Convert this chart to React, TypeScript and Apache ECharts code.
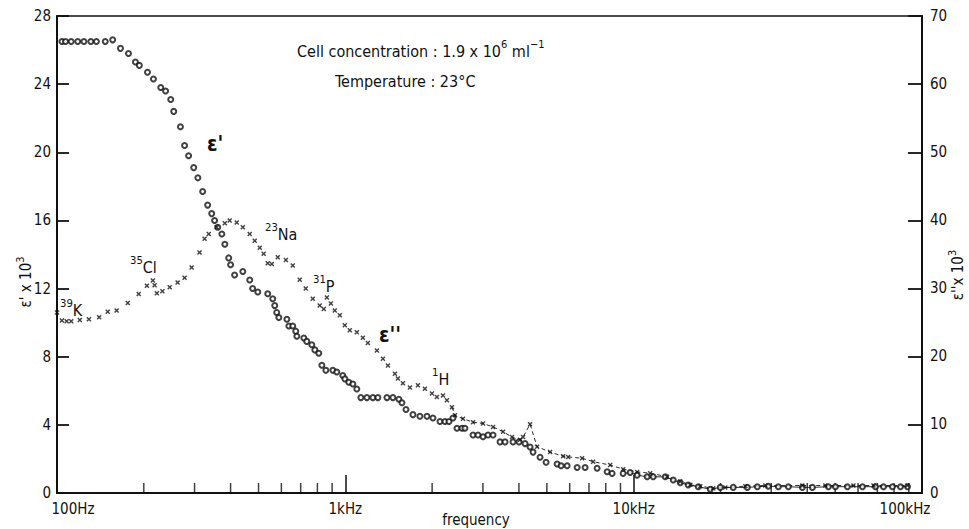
import { useEffect, useRef } from 'react';
import * as echarts from 'echarts';

// ε' (left axis, x10^3) — circles
const epsPrimeFreq = [104,107,112,118,124,131,137,147,156,166,177,187,193,206,216,229,238,248,254,268,277,286,298,308,320,333,344,352,361,373,382,394,400,413,441,466,477,497,538,560,569,578,588,627,637,657,673,679,718,735,765,784,809,829,856,905,934,980,996,1028,1062,1096,1132,1188,1246,1297,1394,1462,1534,1572,1623,1716,1814,1919,2013,2129,2216,2288,2362,2439,2538,2599,2772,2885,3003,3125,3253,3440,3580,3816,4004,4201,4372,4477,4735,4968,5427,5603,5878,6367,6786,7469,8091,8420,9193,9723,10280,11140,11690,12870,13720,14510,15460,16750,18440,19970,22150,24780,26850,29310,31750,34400,38470,41680,47350,50090,55120,62150,68960,73520,78990,84200,89060];
const epsPrimeVal = [26.5,26.5,26.5,26.5,26.5,26.5,26.5,26.5,26.6,26.1,25.8,25.3,25.1,24.7,24.3,23.8,23.6,23.1,22.4,21.5,20.4,19.8,19.1,18.5,17.7,16.9,16.4,16.0,15.6,15.2,14.6,13.8,13.4,12.8,13.0,12.5,12.0,11.8,11.7,11.4,11.0,10.6,10.3,10.2,9.8,9.8,9.5,9.2,9.1,8.9,8.7,8.4,8.2,7.5,7.2,7.2,7.1,6.9,6.7,6.5,6.4,6.1,5.6,5.6,5.6,5.6,5.6,5.6,5.5,5.3,4.9,4.6,4.5,4.5,4.4,4.2,4.2,4.2,4.4,3.8,3.8,3.8,3.4,3.4,3.3,3.4,3.4,3.0,3.0,3.0,3.0,2.9,2.7,2.4,2.1,1.8,1.7,1.6,1.6,1.5,1.5,1.45,1.25,1.15,1.15,1.2,1.05,0.95,0.95,0.95,0.76,0.6,0.47,0.37,0.22,0.33,0.33,0.33,0.37,0.4,0.37,0.37,0.33,0.33,0.37,0.37,0.37,0.37,0.37,0.37,0.37,0.37,0.37];

// ε'' (right axis, x10^3) — crosses
const epsDoubleFreq = [100,104,108,112,120,129,140,150,161,176,192,205,215,218,222,232,246,262,277,293,312,325,336,358,382,397,420,441,466,485,505,521,538,556,583,622,657,695,729,771,815,842,863,891,919,957,996,1036,1096,1150,1197,1287,1350,1405,1486,1522,1584,1675,1785,1888,1997,2078,2181,2251,2343,2400,2559,2772,3003,3253,3524,3785,4035,4133,4372,4623,5130,5692,5925,6625,7234,8287,9193,10280,11410,13070,14510,15720,17020,18880,20780,24390,28620,38470,46220,57830,67860,89060];
const epsDoubleVal = [26.5,25.3,25.2,25.2,25.4,25.5,25.8,26.6,26.8,27.9,29.2,30.4,31.2,30.5,29.3,29.6,30.2,30.9,31.6,33.1,35.3,37.3,38.0,39.0,39.6,40.0,39.7,39.0,38.0,37.0,36.0,35.1,33.7,33.6,34.6,34.2,33.4,31.3,30.0,28.5,27.5,27.0,28.7,27.8,26.8,26.1,24.6,23.9,23.6,22.8,22.0,20.9,19.7,18.7,17.5,16.8,16.1,15.5,15.8,15.3,14.6,14.1,14.3,13.6,12.6,11.4,10.9,10.4,10.2,9.7,9.0,8.2,7.8,8.2,10.1,6.8,6.0,5.4,5.3,5.1,4.6,4.1,3.5,3.1,2.9,2.4,1.7,1.2,1.0,0.7,0.8,1.0,1.1,1.1,1.1,1.1,1.1,1.1];

// frequency from which the thin connecting lines are drawn
const epsDoubleLineFrom = 2300;
const epsPrimeLineFrom = 9000;

// axis ticks
const xMajorTicks = [100, 1000, 10000, 100000];
const xTickLabels = ['100Hz', '1kHz', '10kHz', '100kHz'];
const xMinorTicks = [200,300,400,500,600,700,800,900,2000,3000,4000,5000,6000,7000,8000,9000,20000,30000,40000,50000,60000,70000,80000,90000];

const FONT = '"DejaVu Sans Condensed", "Liberation Sans Narrow", "DejaVu Sans", sans-serif';
const INK = '#111';
const CROSS = 'path://M0,2L2,0L5,3L8,0L10,2L7,5L10,8L8,10L5,7L2,10L0,8L3,5Z';

function supText(x: number, y: number, sup: string, main: string, size = 16) {
  return {
    type: 'text',
    x,
    y,
    style: {
      text: `{s|${sup}}{b|${main}}`,
      verticalAlign: 'middle',
      rich: {
        s: { fontSize: size * 0.7, fontFamily: FONT, fill: INK, lineHeight: 10, verticalAlign: 'top' },
        b: { fontSize: size, fontFamily: FONT, fill: INK, lineHeight: size + 5, verticalAlign: 'bottom' },
      },
    },
  };
}

export default function App() {
  const ref = useRef<HTMLDivElement>(null);
  useEffect(() => {
    if (!ref.current) return;
    const chart = echarts.init(ref.current, null, { renderer: 'svg' });
    const primeData = epsPrimeFreq.map((f, i) => [f, epsPrimeVal[i]]);
    const doubleData = epsDoubleFreq.map((f, i) => [f, epsDoubleVal[i]]);
    const axisFontBase = { color: INK, fontFamily: FONT, fontSize: 15 };
    const yTick = { show: true, inside: true, length: 12, lineStyle: { color: INK, width: 1.8 } };
    const option: any = {
      animation: false,
      backgroundColor: '#fff',
      grid: { left: 57, right: 47, top: 16, bottom: 36, show: true, borderColor: INK, borderWidth: 1.5, backgroundColor: 'transparent' },
      xAxis: {
        type: 'log',
        logBase: 10,
        min: 100,
        max: 100000,
        axisLine: { show: true, lineStyle: { color: INK, width: 2 } },
        axisTick: { show: true, inside: true, length: 18, lineStyle: { color: INK, width: 1.5 } },
        axisLabel: {
          ...axisFontBase,
          margin: 8,
          showMinLabel: true,
          showMaxLabel: true,
          formatter: (v: number) => {
            const i = xMajorTicks.indexOf(Math.round(v));
            const t = i >= 0 ? xTickLabels[i] : '';
            if (i === 0) return `{first|${t}}`;
            if (i === xMajorTicks.length - 1) return `{last|${t}}`;
            return t;
          },
          rich: {
            first: { ...axisFontBase, padding: [0, 0, 0, 32] },
            last: { ...axisFontBase, padding: [0, 34, 0, 0] },
          },
        },
        splitLine: { show: false },
      },
      yAxis: [
        {
          type: 'value',
          min: 0,
          max: 28,
          interval: 4,
          position: 'left',
          axisLine: { show: true, lineStyle: { color: INK, width: 2 } },
          axisTick: yTick,
          axisLabel: { ...axisFontBase, margin: 6 },
          splitLine: { show: false },
        },
        {
          type: 'value',
          min: 0,
          max: 70,
          interval: 10,
          position: 'right',
          axisLine: { show: true, lineStyle: { color: INK, width: 2 } },
          axisTick: { ...yTick, length: 14 },
          axisLabel: { ...axisFontBase, margin: 8, verticalAlign: 'bottom', padding: [0, 0, -7, 0] },
          splitLine: { show: false },
        },
      ],
      series: [
        {
          name: 'minor ticks',
          type: 'scatter',
          silent: true,
          clip: false,
          data: xMinorTicks.map((f) => [f, 0]),
          symbol: 'rect',
          symbolSize: [1.5, 10],
          symbolOffset: [0, -5],
          itemStyle: { color: INK },
          z: 1,
        },
        {
          name: "ε'' line",
          type: 'line',
          yAxisIndex: 1,
          data: doubleData.filter((d) => d[0] >= epsDoubleLineFrom),
          showSymbol: false,
          lineStyle: { color: INK, width: 0.9, type: [4, 3] },
          silent: true,
        },
        {
          name: "ε' line",
          type: 'line',
          yAxisIndex: 0,
          data: primeData.filter((d) => d[0] >= epsPrimeLineFrom),
          showSymbol: false,
          lineStyle: { color: INK, width: 0.9 },
          silent: true,
        },
        {
          name: "ε'",
          type: 'scatter',
          yAxisIndex: 0,
          data: primeData,
          symbol: 'emptyCircle',
          symbolSize: 5,
          itemStyle: { color: INK, borderColor: INK, borderWidth: 1.2 },
          z: 3,
        },
        {
          name: "ε''",
          type: 'scatter',
          yAxisIndex: 1,
          data: doubleData,
          symbol: CROSS,
          symbolSize: 5,
          itemStyle: { color: INK },
          z: 4,
        },
      ],
      graphic: [
        {
          type: 'text',
          x: 297,
          y: 49,
          style: {
            text: '{n|Cell concentration : 1.9 x 10}{s|6}{n| ml}{s|−1}',
            verticalAlign: 'middle',
            rich: {
              n: { fontSize: 16, fontFamily: FONT, fill: INK, lineHeight: 20, verticalAlign: 'bottom' },
              s: { fontSize: 11, fontFamily: FONT, fill: INK, lineHeight: 11, verticalAlign: 'top' },
            },
          },
        },
        {
          type: 'text',
          x: 335,
          y: 81,
          style: { text: 'Temperature : 23°C', fontSize: 16, fontFamily: FONT, fill: INK, verticalAlign: 'middle' },
        },
        {
          type: 'text',
          x: 207,
          y: 144,
          style: { text: "ε'", fontSize: 21, fontWeight: 'bold', fontFamily: FONT, fill: INK, verticalAlign: 'middle' },
        },
        {
          type: 'text',
          x: 379,
          y: 335,
          style: { text: "ε''", fontSize: 21, fontWeight: 'bold', fontFamily: FONT, fill: INK, verticalAlign: 'middle' },
        },
        supText(60, 308, '39', 'K'),
        supText(130, 265, '35', 'Cl'),
        supText(265, 232, '23', 'Na'),
        supText(313, 284, '31', 'P'),
        supText(432, 377, '1', 'H'),
        {
          type: 'text',
          x: 24,
          y: 282,
          rotation: Math.PI / 2,
          style: {
            text: "{b|ε' x 10}{s|3}",
            align: 'center',
            verticalAlign: 'middle',
            rich: {
              b: { fontSize: 15, fontFamily: FONT, fill: INK, lineHeight: 19, verticalAlign: 'bottom' },
              s: { fontSize: 11, fontFamily: FONT, fill: INK, lineHeight: 11, verticalAlign: 'top' },
            },
          },
        },
        {
          type: 'text',
          x: 956,
          y: 275,
          rotation: Math.PI / 2,
          style: {
            text: "{b|ε''x 10}{s|3}",
            align: 'center',
            verticalAlign: 'middle',
            rich: {
              b: { fontSize: 15, fontFamily: FONT, fill: INK, lineHeight: 19, verticalAlign: 'bottom' },
              s: { fontSize: 11, fontFamily: FONT, fill: INK, lineHeight: 11, verticalAlign: 'top' },
            },
          },
        },
        {
          type: 'text',
          x: 476,
          y: 520,
          style: { text: 'frequency', fontSize: 15, fontFamily: FONT, fill: INK, align: 'center', verticalAlign: 'middle' },
        },
      ],
    };
    chart.setOption(option);
    return () => chart.dispose();
  }, []);
  return <div ref={ref} style={{ position: 'fixed', left: 0, top: 0, width: 969, height: 529, background: '#fff' }} />;
}
